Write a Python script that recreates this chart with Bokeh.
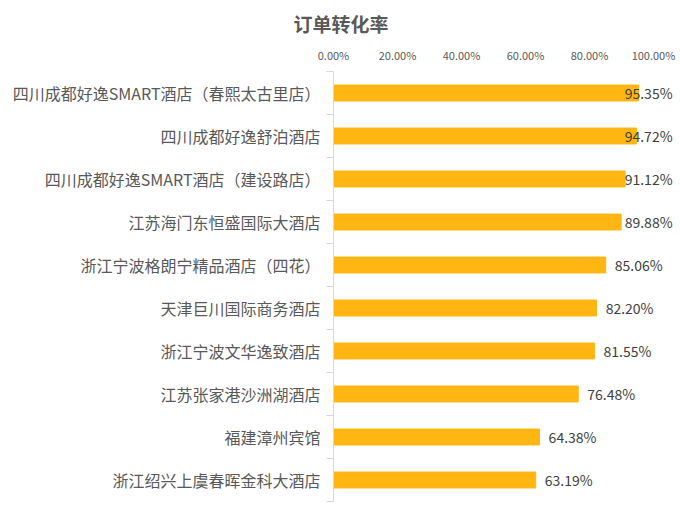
import numpy as np
from bokeh.plotting import figure
from bokeh.models import Range1d, FixedTicker, NumeralTickFormatter, ColumnDataSource
from bokeh.core.properties import value
from bokeh.embed import file_html
from bokeh.resources import INLINE

title_text = "订单转化率"
hotels = [
    "四川成都好逸SMART酒店（春熙太古里店）",
    "四川成都好逸舒泊酒店",
    "四川成都好逸SMART酒店（建设路店）",
    "江苏海门东恒盛国际大酒店",
    "浙江宁波格朗宁精品酒店（四花）",
    "天津巨川国际商务酒店",
    "浙江宁波文华逸致酒店",
    "江苏张家港沙洲湖酒店",
    "福建漳州宾馆",
    "浙江绍兴上虞春晖金科大酒店",
]
rates = [95.35, 94.72, 91.12, 89.88, 85.06, 82.20, 81.55, 76.48, 64.38, 63.19]
x_ticks = [0.0, 0.2, 0.4, 0.6, 0.8, 1.0]

FONT = "Noto Sans CJK SC"
BAR = "#FFB612"
TXT = "#595959"

n = len(hotels)
idx = np.arange(n)
vals = np.array(rates) / 100.0
x_end = 1.0625
lab_x = np.minimum(vals + 0.178, x_end - 0.003)

src = ColumnDataSource(dict(y=idx, right=vals, lx=lab_x,
                            txt=[f"{r:.2f}%" for r in rates]))

p = figure(width=681, height=517, output_backend="svg", toolbar_location=None,
           x_range=Range1d(0, x_end), y_range=Range1d(n - 0.5, -0.5),
           x_axis_location="above",
           min_border_left=333, min_border_right=8, min_border_top=70, min_border_bottom=16)
p.outline_line_color = None
p.grid.visible = False
p.background_fill_color = "white"
p.border_fill_color = "white"

p.title.text = title_text
p.title.align = "left"
p.title.offset = -40
p.title.text_font = FONT
p.title.text_font_size = "19px"
p.title.text_font_style = "bold"
p.title.text_color = TXT
p.title.standoff = 14

p.hbar(y="y", left=0, right="right", height=0.37, color=BAR, source=src)
p.text(x="lx", y="y", text="txt", source=src, text_align="right", text_baseline="middle",
       text_font=value(FONT), text_font_size="14px", text_color="#404040")

xa = p.xaxis[0]
xa.ticker = FixedTicker(ticks=x_ticks)
xa.formatter = NumeralTickFormatter(format="0.00%")
xa.axis_line_color = None
xa.major_tick_out = 0
xa.major_tick_in = 0
xa.minor_tick_out = 0
xa.minor_tick_in = 0
xa.major_label_standoff = 9
xa.major_label_text_font = FONT
xa.major_label_text_font_size = "11px"
xa.major_label_text_color = TXT

ya = p.yaxis[0]
ya.ticker = FixedTicker(ticks=list(idx), minor_ticks=list(np.arange(n + 1) - 0.5))
ya.major_label_overrides = {int(i): h for i, h in zip(idx, hotels)}
ya.axis_line_color = "#D9D9D9"
ya.major_tick_out = 0
ya.major_tick_in = 0
ya.minor_tick_out = 7
ya.minor_tick_in = 0
ya.minor_tick_line_color = "#D9D9D9"
ya.major_label_standoff = 6
ya.major_label_text_font = FONT
ya.major_label_text_font_size = "16px"
ya.major_label_text_color = TXT

open("out.html", "w").write(file_html(p, INLINE))
